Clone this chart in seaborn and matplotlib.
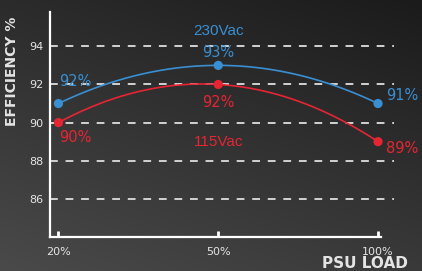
import numpy as np
import pandas as pd
import seaborn as sns
import matplotlib.pyplot as plt
from matplotlib.colors import LinearSegmentedColormap

# data
loads = ["20%", "50%", "100%"]
eff_230 = [91, 93, 91]
eff_115 = [90, 92, 89]
# value labels as printed on the reference
labels_230 = ["92%", "93%", "91%"]
labels_115 = ["90%", "92%", "89%"]
y_ticks = [86, 88, 90, 92, 94]

BLUE = "#3a8fd2"
RED = "#e62534"
LIGHT = "#e4e4e4"

sns.set_style("ticks")
plt.rcParams["font.family"] = ["DejaVu Sans"]

df = pd.DataFrame({"load": loads, "pos": range(len(loads)),
                   "230Vac": eff_230, "115Vac": eff_115})

fig = plt.figure(figsize=(4.22, 2.71), dpi=100)

# dark gradient background
bg = fig.add_axes([0, 0, 1, 1], zorder=-10)
yy, xx = np.mgrid[0:1:200j, 0:1:300j]
shade = 0.65 * yy + 0.35 * (1 - xx)
cmap = LinearSegmentedColormap.from_list("bg", ["#1b1b1b", "#4a4a4a"])
bg.imshow(shade, cmap=cmap, aspect="auto", origin="upper")
bg.axis("off")

ax = fig.add_axes([50 / 422, 34 / 271, 344 / 422, 225 / 271])
ax.set_facecolor("none")

for t in y_ticks:
    ax.axhline(t, color="#d2d2d2", lw=1.4, dashes=(4, 4), zorder=1)

for col, color in [("115Vac", RED), ("230Vac", BLUE)]:
    sns.regplot(data=df, x="pos", y=col, order=2, ci=None, truncate=True,
                scatter=False, color=color, line_kws={"lw": 1.2, "zorder": 3}, ax=ax)
    sns.scatterplot(data=df, x="pos", y=col, color=color, s=44,
                    edgecolor="none", zorder=4, ax=ax)

def label(x, y, text, color, dx, dy, ha="center", size=10.5, family="DejaVu Sans"):
    ax.annotate(text, (x, y), xytext=(dx, dy), textcoords="offset pixels",
                ha=ha, va="center", color=color, fontsize=size, family=family)

# 230Vac labels
label(0, eff_230[0], labels_230[0], BLUE, 1, 22, ha="left")
label(1, eff_230[1], labels_230[1], BLUE, 0, 13)
label(1, eff_230[1], "230Vac", BLUE, 0, 34, size=11, family="Liberation Sans")
label(2, eff_230[2], labels_230[2], BLUE, 8, 8, ha="left")
# 115Vac labels
label(0, eff_115[0], labels_115[0], RED, 1, -15, ha="left")
label(1, eff_115[1], labels_115[1], RED, 0, -18)
label(1, eff_115[1], "115Vac", RED, 0, -58, size=11, family="Liberation Sans")
label(2, eff_115[2], labels_115[2], RED, 8, -7, ha="left")

ax.set_xlim(-0.053, 2.10)
ax.set_ylim(84, 95.8)
ax.set_xticks(range(len(loads)), loads)
ax.set_yticks(y_ticks)
ax.set_xlabel("")
ax.set_ylabel("")

for side in ["top", "right"]:
    ax.spines[side].set_visible(False)
for side in ["left", "bottom"]:
    ax.spines[side].set_color("white")
    ax.spines[side].set_linewidth(1.6)
ax.spines["bottom"].set_bounds(-0.053, 2.02)

ax.tick_params(axis="x", direction="in", length=4.5, width=2, color="white",
               labelcolor=LIGHT, labelsize=8, pad=7)
ax.tick_params(axis="y", length=0, labelcolor=LIGHT, labelsize=8, pad=5)

fig.text(12 / 422, 1 - 71 / 271, "EFFICIENCY %", rotation=90, ha="center",
         va="center", color=LIGHT, fontsize=10, fontweight="bold")
fig.text(408 / 422, 1 - 264 / 271, "PSU LOAD", ha="right", va="center",
         color=LIGHT, fontsize=11, fontweight="bold")

fig.savefig("out.png", dpi=100)
